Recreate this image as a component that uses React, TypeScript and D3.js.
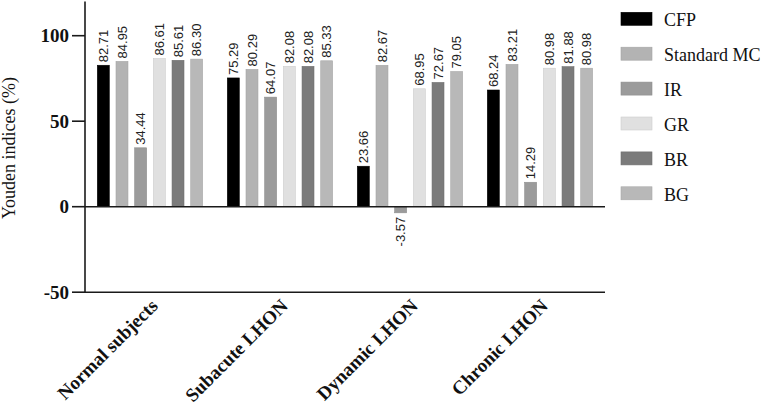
import React from "react";
import * as d3 from "d3";

const categories = ["Normal subjects", "Subacute LHON", "Dynamic LHON", "Chronic LHON"];
const seriesNames = ["CFP", "Standard MC", "IR", "GR", "BR", "BG"];
const cfp = [82.71, 75.29, 23.66, 68.24];
const standardMC = [84.95, 80.29, 82.67, 83.21];
const ir = [34.44, 64.07, -3.57, 14.29];
const gr = [86.61, 82.08, 68.95, 80.98];
const br = [85.61, 82.08, 72.67, 81.88];
const bg = [86.3, 85.33, 79.05, 80.98];
const seriesValues = [cfp, standardMC, ir, gr, br, bg];
const seriesColors = ["#000000", "#b3b3b3", "#9b9b9b", "#e0e0e0", "#7b7b7b", "#b8b8b8"];
const yTicks = [-50, 0, 50, 100];

const W = 765;
const H = 418;
const left = 85;
const right = 605;

export default function App() {
  const y = d3.scaleLinear().domain([-50, 120]).range([292.2, 1.5]);
  const x0 = d3.scaleBand<string>().domain(categories).range([left, right]).paddingInner(0).paddingOuter(0);
  const x1 = d3
    .scaleBand<string>()
    .domain(seriesNames)
    .range([0, x0.bandwidth()])
    .paddingInner(0.36)
    .paddingOuter(0.66);

  const serif = "'Liberation Serif', 'Times New Roman', serif";
  const sans = "'Liberation Sans', Arial, sans-serif";
  const axisColor = "#1a1a1a";

  return (
    <svg
      width={W}
      height={H}
      viewBox={`0 0 ${W} ${H}`}
      style={{ position: "absolute", left: 0, top: 0, background: "#fff" }}
    >
      <rect x={0} y={0} width={W} height={H} fill="#fff" />
      {/* bars */}
      {categories.map((c, ci) => (
        <g key={c} transform={`translate(${x0(c)},0)`}>
          {seriesNames.map((s, si) => {
            const v = seriesValues[si][ci];
            const bx = x1(s)!;
            const bw = x1.bandwidth();
            const top = y(Math.max(v, 0));
            const bot = y(Math.min(v, 0));
            const cx = bx + bw / 2;
            const label = v.toFixed(2);
            return (
              <g key={s}>
                <rect
                  x={bx}
                  y={top}
                  width={bw}
                  height={bot - top}
                  fill={seriesColors[si]}
                  stroke={d3.color(seriesColors[si])!.darker(0.25).toString()}
                  strokeWidth={0.6}
                />
                <text
                  transform={`translate(${cx},${v >= 0 ? top - 3 : bot + 4}) rotate(-90)`}
                  textAnchor={v >= 0 ? "start" : "end"}
                  dy="0.35em"
                  fontFamily={sans}
                  fontSize={13}
                  fill="#222"
                >
                  {label}
                </text>
              </g>
            );
          })}
        </g>
      ))}

      {/* zero line */}
      <line x1={left} x2={right} y1={y(0)} y2={y(0)} stroke={axisColor} strokeWidth={1.6} />
      {/* bottom axis line */}
      <line x1={left} x2={right} y1={y(-50)} y2={y(-50)} stroke={axisColor} strokeWidth={1.6} />
      {/* y axis */}
      <line x1={left} x2={left} y1={y(120)} y2={y(-50)} stroke={axisColor} strokeWidth={1.6} />
      {yTicks.map((t) => (
        <g key={t}>
          <line x1={left - 13} x2={left} y1={y(t)} y2={y(t)} stroke={axisColor} strokeWidth={1.6} />
          <text
            x={left - 16}
            y={y(t)}
            dy="0.35em"
            textAnchor="end"
            fontFamily={serif}
            fontWeight="bold"
            fontSize={19}
            fill="#111"
          >
            {t}
          </text>
        </g>
      ))}
      <text
        transform={`translate(15,148) rotate(-90)`}
        textAnchor="middle"
        fontFamily={serif}
        fontSize={18}
        fill="#111"
      >
        Youden indices (%)
      </text>

      {/* category labels */}
      {categories.map((c) => (
        <text
          key={c}
          transform={`translate(${x0(c)! + x0.bandwidth() / 2 + 9},${307}) rotate(-45)`}
          textAnchor="end"
          fontFamily={serif}
          fontWeight="bold"
          fontSize={19}
          fill="#111"
        >
          {c}
        </text>
      ))}

      {/* legend */}
      {seriesNames.map((s, i) => {
        const ty = 12.3 + i * 34.9;
        return (
          <g key={s}>
            <rect
              x={621}
              y={ty}
              width={31}
              height={13}
              fill={seriesColors[i]}
              stroke={d3.color(seriesColors[i])!.darker(0.25).toString()}
              strokeWidth={0.6}
            />
            <text x={664} y={ty + 14} fontFamily={serif} fontSize={18} fill="#111">
              {s}
            </text>
          </g>
        );
      })}
    </svg>
  );
}
